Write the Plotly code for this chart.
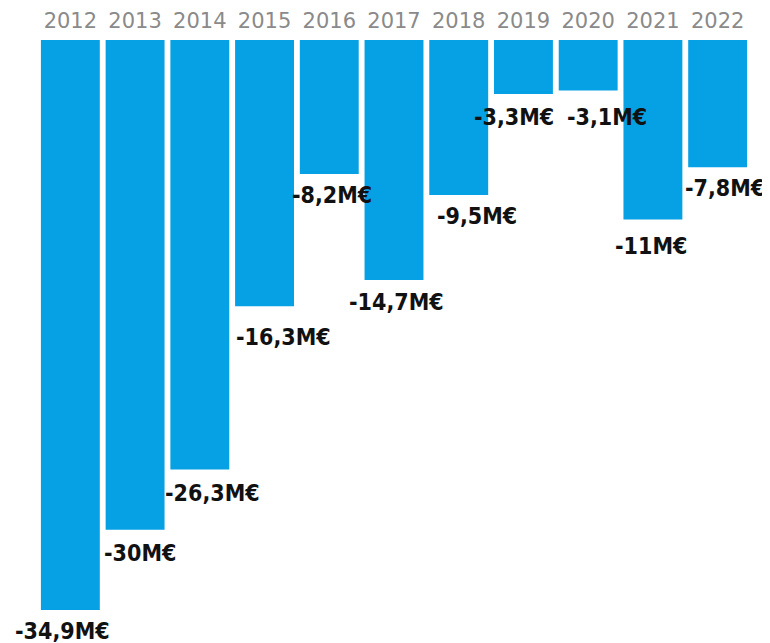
import plotly.graph_objects as go

years = ["2012", "2013", "2014", "2015", "2016", "2017", "2018", "2019", "2020", "2021", "2022"]
values = [-34.9, -30.0, -26.3, -16.3, -8.2, -14.7, -9.5, -3.3, -3.1, -11.0, -7.8]
labels = ["-34,9M€", "-30M€", "-26,3M€", "-16,3M€", "-8,2M€", "-14,7M€",
          "-9,5M€", "-3,3M€", "-3,1M€", "-11M€", "-7,8M€"]

# label layout offsets (pixels)
label_xshift = [-8, 5, 13, 19, 3, 2, 18, -9, 19, -2, 7]
label_yshift = [-21, -23, -24, -31, -21, -22, -21, -23, -26, -26, -21]

fig = go.Figure()
fig.add_trace(go.Bar(
    x=years, y=values,
    marker=dict(color="#06A0E4", line=dict(width=0)),
    hoverinfo="skip",
))

# annotations placed by category index on the category axis
for i, (v, t, dx, dy) in enumerate(zip(values, labels, label_xshift, label_yshift)):
    fig.add_annotation(
        x=i, y=v, text=t, showarrow=False,
        xanchor="center", yanchor="middle",
        xshift=dx, yshift=dy,
        font=dict(family="DejaVu Sans Condensed, DejaVu Sans", size=23, color="#111111", weight="bold"),
    )

fig.update_layout(
    width=762, height=635,
    margin=dict(l=30, r=20, t=32, b=23, autoexpand=False),
    paper_bgcolor="white", plot_bgcolor="white",
    bargap=0.09,
    showlegend=False,
    xaxis=dict(
        type="category",
        categoryorder="array", categoryarray=years,
        range=[-0.5, len(years) - 0.5],
        automargin=False,
        side="top", showgrid=False, zeroline=False, showline=False, ticks="",
        tickfont=dict(family="DejaVu Sans", size=21, color="#8a8a8a"),
        ticklabelstandoff=7,
        fixedrange=True,
    ),
    yaxis=dict(
        range=[-35.52, 0], showgrid=False, zeroline=False, showline=False,
        showticklabels=False, ticks="", fixedrange=True, automargin=False,
    ),
)

fig.write_html("out.html")
